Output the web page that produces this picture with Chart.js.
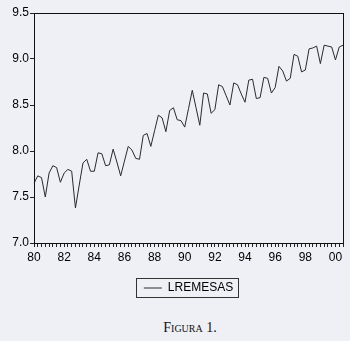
<!DOCTYPE html>
<html>
<head>
<meta charset="utf-8">
<script src="https://cdn.jsdelivr.net/npm/chart.js@4.4.0/dist/chart.umd.min.js"></script>
<style>
  html, body { margin: 0; padding: 0; background: #eff0f5; }
  #wrap { position: relative; width: 350px; height: 341px; }
  #box { position: absolute; left: 0; top: 0; width: 350px; height: 304px; }
  #cap { position: absolute; left: 0; top: 320px; width: 350px; padding-left: 30px; box-sizing: border-box;
         text-align: center; font-family: "Liberation Serif", serif; font-size: 14px;
         font-variant: small-caps; color: #111; }
</style>
</head>
<body>
<div id="wrap">
  <div id="box"><canvas id="myChart"></canvas></div>
  <div id="cap">Figura 1.</div>
</div>
<script>
// quarterly series, 1980Q1 .. 2000Q3
var startYear = 1980;
var lremesas = [
  7.65, 7.73, 7.71, 7.50, 7.76, 7.84, 7.82, 7.66, 7.76, 7.80,
  7.78, 7.38, 7.63, 7.87, 7.91, 7.78, 7.78, 7.98, 7.97, 7.84,
  7.85, 8.02, 7.88, 7.73, 7.89, 8.05, 8.01, 7.92, 7.91, 8.17,
  8.19, 8.05, 8.22, 8.39, 8.36, 8.21, 8.44, 8.47, 8.34, 8.33,
  8.26, 8.46, 8.66, 8.47, 8.28, 8.63, 8.62, 8.41, 8.45, 8.72,
  8.70, 8.60, 8.50, 8.74, 8.72, 8.62, 8.53, 8.77, 8.78, 8.57,
  8.58, 8.80, 8.79, 8.63, 8.69, 8.92, 8.87, 8.76, 8.79, 9.05,
  9.03, 8.86, 8.88, 9.11, 9.12, 9.14, 8.95, 9.15, 9.14, 9.13,
  8.99, 9.13, 9.15
];
var yearLabels = ['80', '82', '84', '86', '88', '90', '92', '94', '96', '98', '00'];
var yTicks = [7.0, 7.5, 8.0, 8.5, 9.0, 9.5];

var quarters = [];
for (var i = 0; i < lremesas.length; i++) {
  quarters.push((startYear + Math.floor(i / 4)) + 'Q' + (i % 4 + 1));
}

// box round the plot and round the legend
var frame = {
  id: 'frame',
  afterDraw: function(chart) {
    var ctx = chart.ctx, a = chart.chartArea;
    ctx.save();
    ctx.strokeStyle = '#111';
    ctx.lineWidth = 1;
    ctx.strokeRect(Math.round(a.left) + 0.5, Math.round(a.top) + 0.5,
                   Math.round(a.right - a.left), Math.round(a.bottom - a.top));
    var lg = chart.legend;
    if (lg && lg.legendHitBoxes && lg.legendHitBoxes.length) {
      var h = lg.legendHitBoxes[0];
      ctx.strokeStyle = '#333';
      ctx.strokeRect(Math.round(h.left) - 7.5, Math.round(h.top) - 3.5,
                     Math.round(h.width) + 13, Math.round(h.height) + 7);
    }
    ctx.restore();
  }
};

var ctx = document.getElementById('myChart').getContext('2d');
var chart = new Chart(ctx, {
  type: 'line',
  data: {
    labels: quarters,
    datasets: [{
      label: 'LREMESAS',
      data: lremesas,
      borderColor: '#2a2a2a',
      borderWidth: 1,
      pointRadius: 0,
      tension: 0,
      fill: false
    }]
  },
  options: {
    responsive: true,
    maintainAspectRatio: false,
    animation: false,
    layout: { padding: { left: 0, right: 7, top: 13, bottom: 0 } },
    plugins: {
      tooltip: { enabled: false },
      legend: {
        position: 'bottom',
        fullSize: false,
        labels: {
          usePointStyle: true,
          pointStyle: 'line',
          pointStyleWidth: 18,
          padding: 6,
          color: '#000',
          font: { family: 'Liberation Sans, Arial, sans-serif', size: 12 }
        }
      }
    },
    scales: {
      x: {
        type: 'category',
        offset: false,
        grid: { drawOnChartArea: false, drawTicks: true, tickLength: 4, color: '#222' },
        border: { display: true, color: '#111', width: 1 },
        ticks: {
          autoSkip: false,
          maxRotation: 0,
          padding: 3,
          color: '#000',
          font: { family: 'Liberation Sans, Arial, sans-serif', size: 12 },
          callback: function(v) {
            var q = this.getLabelForValue(v);
            var yy = q.substr(2, 2);
            return (q.substr(4) === 'Q1' && yearLabels.indexOf(yy) >= 0) ? yy : '';
          }
        },
        afterFit: function(s) { s.height = 33; }
      },
      y: {
        min: yTicks[0],
        max: yTicks[yTicks.length - 1],
        grid: { drawOnChartArea: false, drawTicks: true, tickLength: 4, color: '#222' },
        border: { display: true, color: '#111', width: 1 },
        ticks: {
          stepSize: yTicks[1] - yTicks[0],
          padding: 1,
          color: '#000',
          font: { family: 'Liberation Sans, Arial, sans-serif', size: 12 },
          callback: function(v) { return v.toFixed(1); }
        },
        afterFit: function(s) { s.width = 34; }
      }
    }
  },
  plugins: [frame]
});
</script>
</body>
</html>
